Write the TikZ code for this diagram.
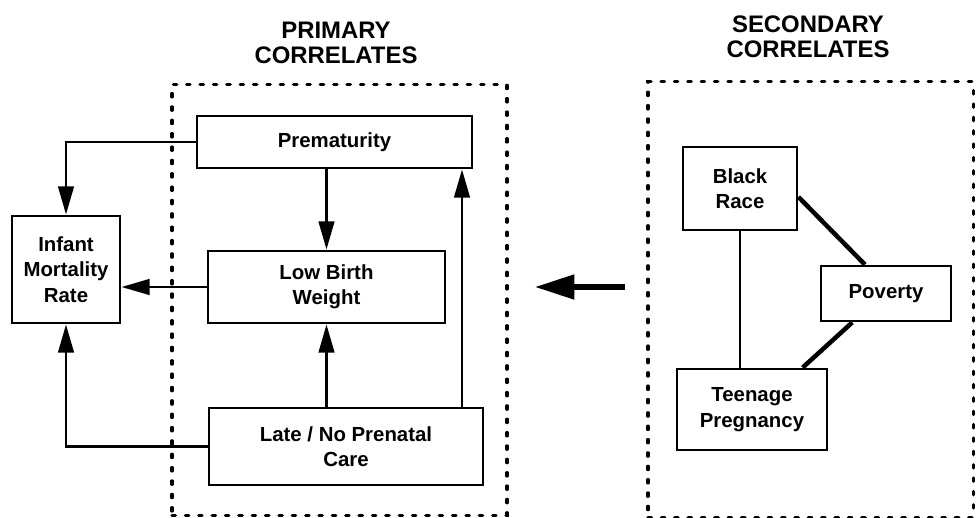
\documentclass[tikz,border=0pt]{standalone}
\usepackage{fontspec}
\setmainfont{Liberation Sans}
\usetikzlibrary{arrows.meta}

\tikzset{
	box/.style={draw, line width=2pt, align=center, inner sep=0pt, font=\bfseries\fontsize{14.5}{18}\selectfont},
	dotbox/.style={draw, line width=2.2pt, line cap=round, dash pattern=on 2.5pt off 7pt, inner sep=0pt},
	arr/.style={line width=2pt, -{Triangle[length=20pt,width=11pt]}},
	title/.style={align=center, font=\bfseries\fontsize{17}{18}\selectfont}
}

\begin{document}
\begin{tikzpicture}[x=0.025cm, y=-0.025cm]
	\useasboundingbox (0,0) rectangle (976,518);

%links
	%Rahmen + Titel
	\node[dotbox, minimum width=8.375cm, minimum height=10.75cm] (prim) at (339.5,300) {};
	\node[title] (primtitle) at (336,43) {PRIMARY\\CORRELATES};

	%Boxen
	\node[box, minimum width=6.875cm, minimum height=1.3cm] (prem) at (334.5,142) {Prematurity};
	\node[box, minimum width=5.925cm, minimum height=1.8cm] (lbw) at (326.5,287) {Low Birth\\Weight};
	\node[box, minimum width=6.85cm, minimum height=1.925cm] (late) at (346,446.5) {Late / No Prenatal\\Care};
	\node[box, minimum width=2.7cm, minimum height=2.675cm] (imr) at (66,269.5) {Infant\\Mortality\\Rate};

	%Pfeile
	\coordinate (up) at (462,0);
	\draw[arr] (prem.west) -| (imr.north);
	\draw[arr] (prem.south -| lbw.north) -- (lbw.north);
	\draw[arr] (lbw.west) -- (lbw.west -| imr.east);
	\draw[arr] (late.north -| lbw.south) -- (lbw.south);
	\draw[arr] (late.north -| up) -- (prem.south -| up);
	\draw[arr] (late.west) -| (imr.south);

%rechts
	%Rahmen + Titel
	\node[dotbox, minimum width=8.125cm, minimum height=10.875cm] (sec) at (810.5,299.5) {};
	\node[title] (sectitle) at (808,37) {SECONDARY\\CORRELATES};

	%Boxen
	\node[box, minimum width=2.85cm, minimum height=2.075cm] (black) at (740,188.5) {Black\\Race};
	\node[box, minimum width=3.25cm, minimum height=1.375cm] (pov) at (886,293.5) {Poverty};
	\node[box, minimum width=3.75cm, minimum height=2.025cm] (teen) at (752,409.5) {Teenage\\Pregnancy};

	%Verbindungen
	\draw[line width=1.4pt] (black.south) -- (teen.north -| black.south);
	\draw[line width=3.2pt] ([yshift=-6pt]black.east) -- ([xshift=-15pt]pov.north);
	\draw[line width=3.2pt] ([xshift=-24pt]pov.south) -- ([xshift=36pt]teen.north);

	%grosser Pfeil
	\coordinate (from) at (625,287);
	\coordinate (to) at (535,287);
	\draw[line width=3.8pt, -{Triangle[length=28pt,width=17pt]}] (from) -- (to);
\end{tikzpicture}
\end{document}
